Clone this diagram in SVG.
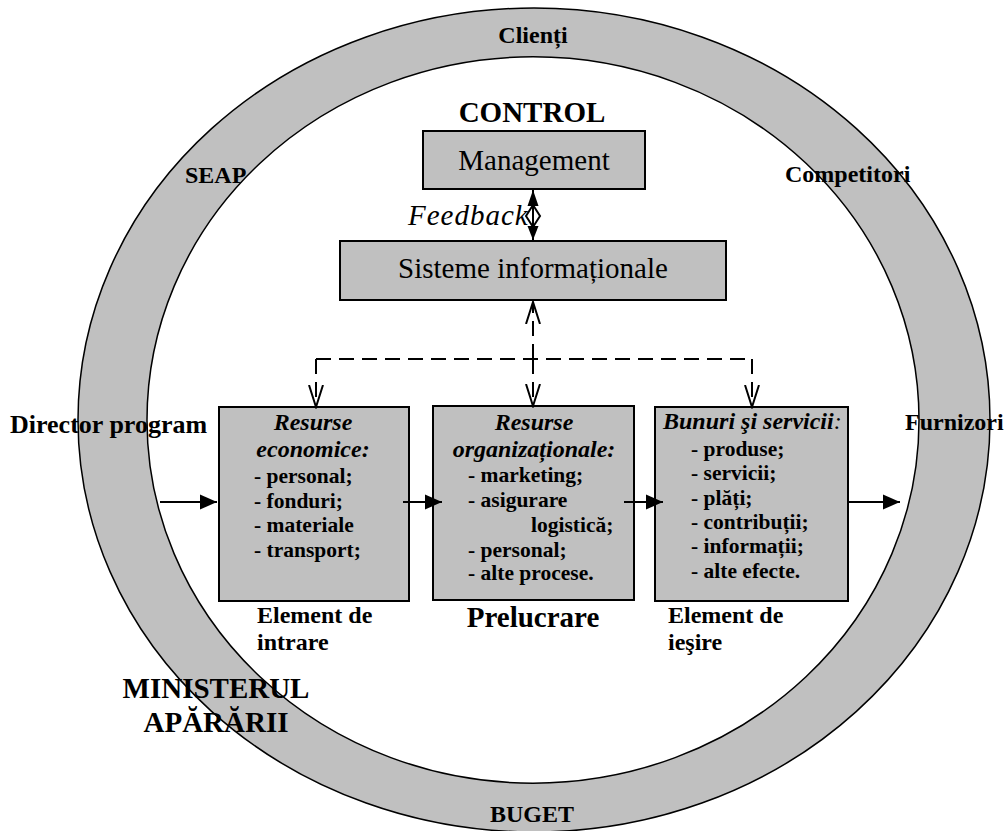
<svg xmlns="http://www.w3.org/2000/svg" width="1007" height="831" viewBox="0 0 1007 831">
<style>
text{font-family:"Liberation Serif","Times New Roman",serif;fill:#000}
.b{font-weight:bold}
.bi{font-weight:bold;font-style:italic}
.box{fill:#c0c0c0;stroke:#000;stroke-width:2}
.ring{fill:#c0c0c0;stroke:#000;stroke-width:1.5;fill-rule:evenodd}
.solid{stroke:#000;stroke-width:2;fill:none}
.dash{stroke:#000;stroke-width:2;fill:none;stroke-dasharray:15 8}
.h24{font-size:24px}
.h29{font-size:29px}
.it{font-size:21.5px;font-weight:bold}
</style>
<defs>
<marker id="fa" markerUnits="userSpaceOnUse" markerWidth="18" markerHeight="16" viewBox="0 0 18 16" refX="17" refY="8" orient="auto">
<path d="M0,0.5 L17,8 L0,15.5 z" fill="#000"/>
</marker>
<marker id="va" markerUnits="userSpaceOnUse" markerWidth="24" markerHeight="18" viewBox="0 0 24 18" refX="22" refY="9" orient="auto">
<path d="M0,2 L22,9 L0,16" fill="none" stroke="#000" stroke-width="2" stroke-dasharray="none"/>
</marker>
</defs>
<rect width="1007" height="831" fill="#fff"/>
<path class="ring" d="M78,420 A456,412 0 1,0 990,420 A456,412 0 1,0 78,420 Z M147,420 A386,363 0 1,0 919,420 A386,363 0 1,0 147,420 Z"/>
<g id="management">
<rect class="box" x="423" y="131" width="222" height="58"/>
<text class="h29" x="534" y="170" text-anchor="middle">Management</text>
</g>
<g id="sisteme">
<rect class="box" x="340" y="241" width="386" height="59"/>
<text class="h29" x="533" y="278" text-anchor="middle">Sisteme informaționale</text>
</g>
<g id="box1">
<rect class="box" x="219" y="407" width="190" height="194"/>
<text class="bi h24" x="313" y="430" text-anchor="middle">Resurse</text>
<text class="bi h24" x="313" y="457" text-anchor="middle">economice:</text>
<text class="it" x="254" y="483">- personal;</text>
<text class="it" x="254" y="508">- fonduri;</text>
<text class="it" x="254" y="532">- materiale</text>
<text class="it" x="254" y="557">- transport;</text>
</g>
<g id="box2">
<rect class="box" x="433" y="406" width="201" height="194"/>
<text class="bi h24" x="534" y="430" text-anchor="middle">Resurse</text>
<text class="bi h24" x="534" y="457" text-anchor="middle">organizaționale:</text>
<text class="it" x="468" y="482">- marketing;</text>
<text class="it" x="468" y="507">- asigurare</text>
<text class="it" x="531" y="532">logistică;</text>
<text class="it" x="468" y="557">- personal;</text>
<text class="it" x="468" y="580">- alte procese.</text>
</g>
<g id="box3">
<rect class="box" x="655" y="407" width="193" height="194"/>
<text class="h24" x="663" y="429"><tspan class="bi">Bunuri şi servicii</tspan><tspan font-style="italic">:</tspan></text>
<text class="it" x="691" y="456">- produse;</text>
<text class="it" x="691" y="480">- servicii;</text>
<text class="it" x="691" y="505">- plăți;</text>
<text class="it" x="691" y="529">- contribuții;</text>
<text class="it" x="691" y="553">- informații;</text>
<text class="it" x="691" y="578">- alte efecte.</text>
</g>
<g id="labels">
<text class="b h24" x="533" y="43" text-anchor="middle">Clienți</text>
<text class="b h29" x="532" y="122" text-anchor="middle">CONTROL</text>
<text class="b h24" x="185" y="183">SEAP</text>
<text class="b h24" x="785" y="182">Competitori</text>
<text class="b" font-size="26" x="10" y="433">Director program</text>
<text class="b h24" x="905" y="430">Furnizori</text>
<text font-style="italic" font-size="29" letter-spacing="1" x="408" y="225">Feedback</text>
<text class="b h24" x="257" y="623">Element de</text>
<text class="b h24" x="257" y="650">intrare</text>
<text class="b h29" x="533" y="627" text-anchor="middle">Prelucrare</text>
<text class="b h24" x="668" y="623">Element de</text>
<text class="b h24" x="668" y="650">ieşire</text>
<text class="b h29" x="216" y="698" text-anchor="middle">MINISTERUL</text>
<text class="b h29" x="216" y="732" text-anchor="middle">APĂRĂRII</text>
<text class="b h24" x="532" y="822" text-anchor="middle">BUGET</text>
</g>
<g id="connectors">
<line class="solid" x1="160" y1="502" x2="217" y2="502" marker-end="url(#fa)"/>
<line class="solid" x1="403" y1="502" x2="442" y2="502" marker-end="url(#fa)"/>
<line class="solid" x1="624" y1="502" x2="663" y2="502" marker-end="url(#fa)"/>
<line class="solid" x1="849" y1="502" x2="900" y2="502" marker-end="url(#fa)"/>
<path class="dash" d="M316,359 H752"/>
<line class="dash" x1="316" y1="359" x2="316" y2="407" marker-end="url(#va)"/>
<line class="dash" x1="752" y1="359" x2="752" y2="407" marker-end="url(#va)"/>
<line class="dash" x1="533" y1="359" x2="533" y2="406" marker-end="url(#va)"/>
<line class="dash" x1="533" y1="359" x2="533" y2="302" marker-end="url(#va)"/>
<g id="feedback-arrow">
<line class="solid" x1="533" y1="190" x2="533" y2="240"/>
<polygon points="533,205 540,216 533,227 526,216" fill="#fff" stroke="#000" stroke-width="2"/>
<line class="solid" x1="533" y1="205" x2="533" y2="227"/>
<polygon points="533,190 538.5,206 527.5,206" fill="#000"/>
<polygon points="533,240 538.5,226 527.5,226" fill="#000"/>
</g>
</g>
</svg>
